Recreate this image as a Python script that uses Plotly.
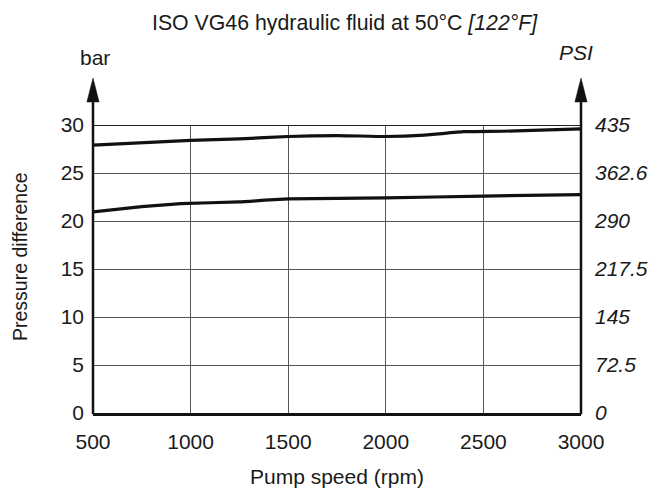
import plotly.graph_objects as go

# Data
speed_upper = [500, 1000, 1250, 1500, 1750, 2000, 2200, 2400, 2600, 3000]
dp_upper = [27.9, 28.4, 28.55, 28.8, 28.9, 28.8, 28.95, 29.3, 29.35, 29.6]

speed_lower = [500, 750, 950, 1250, 1500, 2000, 2500, 3000]
dp_lower = [20.95, 21.5, 21.8, 22.0, 22.3, 22.4, 22.6, 22.75]

bar_ticks = [0, 5, 10, 15, 20, 25, 30]
psi_ticks = [0, 72.5, 145, 217.5, 290, 362.6, 435]
psi_labels = ["0", "72.5", "145", "217.5", "290", "362.6", "435"]
x_ticks = [500, 1000, 1500, 2000, 2500, 3000]

FONT = "Liberation Sans, Arial, sans-serif"
TXT = "#1a1a1a"
TS = 21  # tick font size

fig = go.Figure()
for xs, ys in [(speed_upper, dp_upper), (speed_lower, dp_lower)]:
    fig.add_trace(go.Scatter(x=xs, y=ys, mode="lines",
                             line=dict(color="#111111", width=3.2, shape="spline", smoothing=0.4),
                             showlegend=False, hoverinfo="skip", cliponaxis=False))
# invisible trace for right axis
fig.add_trace(go.Scatter(x=[500], y=[0], yaxis="y2", mode="markers",
                         marker=dict(opacity=0), showlegend=False, hoverinfo="skip"))

fig.update_layout(
    width=652, height=488,
    margin=dict(l=93, r=71, t=125, b=75, autoexpand=False),
    paper_bgcolor="white", plot_bgcolor="white",
    font=dict(family=FONT, size=TS, color=TXT),
    xaxis=dict(range=[500, 3000], tickvals=x_ticks, ticks="", showgrid=True,
               gridcolor="#555555", gridwidth=1.2, zeroline=False, automargin=False,
               showline=True, linecolor="#111111", linewidth=2.5,
               ticklabelstandoff=8, tickfont=dict(size=TS, color=TXT)),
    yaxis=dict(range=[0, 30], tickvals=bar_ticks, ticks="", showgrid=True,
               gridcolor="#555555", gridwidth=1.2, zeroline=False, automargin=False,
               showline=False, ticklabelstandoff=8, tickfont=dict(size=TS, color=TXT)),
    yaxis2=dict(range=[0, 435], overlaying="y", side="right", tickvals=psi_ticks,
                ticktext=["<i>%s</i>" % t for t in psi_labels], ticks="",
                showgrid=False, zeroline=False, showline=False, automargin=False,
                ticklabelstandoff=13, tickfont=dict(size=TS, color=TXT)),
)

shapes = []
# top 30 line darker
shapes.append(dict(type="line", xref="paper", yref="y", x0=0, x1=1, y0=30, y1=30,
                   line=dict(color="#222222", width=2)))
# vertical axis lines with arrows
for px in [0, 1]:
    shapes.append(dict(type="line", xref="paper", yref="paper", x0=px, x1=px, y0=-0.004, y1=1.09,
                       line=dict(color="#111111", width=2.5)))
    hw = 0.0125
    shapes.append(dict(type="path", xref="paper", yref="paper",
                       path=f"M {px-hw} 1.080 L {px+hw} 1.080 L {px} 1.163 Z",
                       fillcolor="#111111", line=dict(color="#111111", width=0.5)))
fig.update_layout(shapes=shapes)

ann = [
    dict(text="ISO VG46 hydraulic fluid at 50°C <i>[122°F]</i>", x=0.516, y=1.355,
         font=dict(size=21.3)),
    dict(text="bar", x=0.004, y=1.236, font=dict(size=21)),
    dict(text="<i>PSI</i>", x=0.99, y=1.253, font=dict(size=21)),
    dict(text="Pump speed (rpm)", x=0.5, y=-0.222, font=dict(size=21)),
    dict(text="Pressure difference", x=-0.1496, y=0.545, textangle=-90, font=dict(size=19.5)),
]
for a in ann:
    fig.add_annotation(xref="paper", yref="paper", showarrow=False,
                       xanchor="center", yanchor="middle", **a)

fig.write_html("out.html", config={"displayModeBar": False},
               post_script="document.body.style.margin='0';document.body.style.overflow='hidden';")
